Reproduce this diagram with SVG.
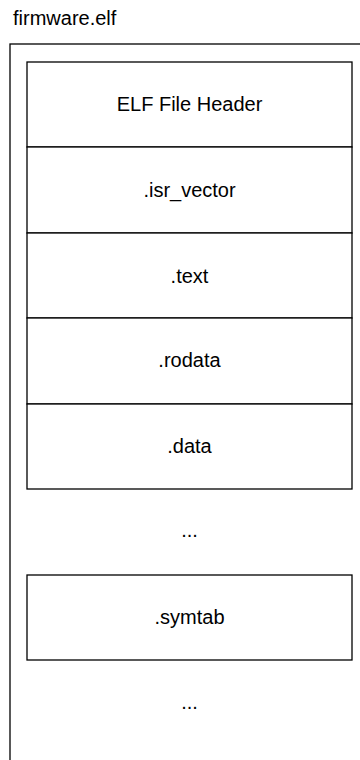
<svg xmlns="http://www.w3.org/2000/svg" width="360" height="760" viewBox="0 0 360 760">
<style>
.box{fill:#fff;stroke:#000;stroke-width:1.3}
.t{font-family:"Liberation Sans",Arial,sans-serif;font-size:20px;fill:#000;text-anchor:middle}
.title{font-family:"Liberation Sans",Arial,sans-serif;font-size:20px;fill:#000}
</style>
<rect width="360" height="760" fill="#fff"/>
<text class="title" x="13" y="25">firmware.elf</text>
<g id="file">
<rect class="box" x="10" y="44" width="370" height="740"/>
</g>
<g id="header"><rect class="box" x="27" y="62" width="325" height="85"/><text class="t" x="189.5" y="111">ELF File Header</text></g>
<g id="isr_vector"><rect class="box" x="27" y="147" width="325" height="86"/><text class="t" x="189.5" y="197">.isr_vector</text></g>
<g id="text"><rect class="box" x="27" y="233" width="325" height="85"/><text class="t" x="189.5" y="282.5">.text</text></g>
<g id="rodata"><rect class="box" x="27" y="318" width="325" height="86"/><text class="t" x="189.5" y="367">.rodata</text></g>
<g id="data"><rect class="box" x="27" y="404" width="325" height="85"/><text class="t" x="189.5" y="453">.data</text></g>
<g id="dots1"><text class="t" x="189.5" y="537">...</text></g>
<g id="symtab"><rect class="box" x="27" y="575" width="325" height="85"/><text class="t" x="189.5" y="624">.symtab</text></g>
<g id="dots2"><text class="t" x="189.5" y="709">...</text></g>
<g id="connectors"></g>
</svg>
